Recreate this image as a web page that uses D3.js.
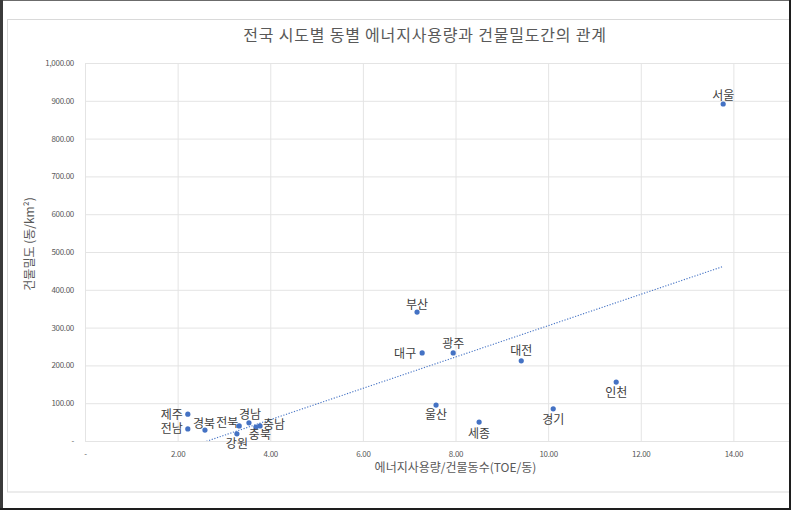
<!DOCTYPE html>
<html><head><meta charset="utf-8">
<script src="https://cdn.jsdelivr.net/npm/d3@7/dist/d3.min.js"></script>
<style>
html,body{margin:0;padding:0;background:#fff;}
svg{display:block;font-family:"Noto Sans CJK KR","Noto Sans",sans-serif;}
</style></head>
<body>
<svg id="chart" width="793" height="512"></svg>
<script>
// ---- data ----
const regions = ["서울","인천","경기","대전","세종","광주","울산","대구","부산","제주","전남","경북","전북","경남","충북","충남","강원"];
const energyPerBuilding = [13.78,11.47,10.11,9.42,8.51,7.95,7.58,7.28,7.17,2.22,2.22,2.59,3.33,3.54,3.69,3.78,3.28];
const buildingDensity   = [891.5,156,85,212,50,233,95,233,341,71,32,29,40,48,37,40,19];
const xTicks = [0,2,4,6,8,10,12,14,16];
const yTicks = [0,100,200,300,400,500,600,700,800,900,1000];
const title = "전국 시도별 동별 에너지사용량과 건물밀도간의 관계";
const xTitle = "에너지사용량/건물동수(TOE/동)";
const yTitle = "건물밀도 (동/km²)";

// label placement (style): offset of label centre from point
const labelOffset = {"서울":[0,-10],"인천":[0,9],"경기":[0,10],"대전":[0,-11],"세종":[0,10],"광주":[0,-10],
  "울산":[0,8],"대구":[-17,0],"부산":[0,-9],"제주":[-16,-1],"전남":[-16,-1],"경북":[-1,-8],"전북":[-12,-4],
  "경남":[1,-9],"충북":[4,6],"충남":[14,-2],"강원":[0,9]};

const pts = regions.map((r,i)=>({name:r,x:energyPerBuilding[i],y:buildingDensity[i]}));

const svg = d3.select("#chart");
const W=793,H=512;
const plot={left:85,right:826,top:63,bottom:441};
const x = d3.scaleLinear().domain([0,16]).range([plot.left,plot.right]);
const y = d3.scaleLinear().domain([0,1000]).range([plot.bottom,plot.top]);
const fmt = v => v===0 ? "-" : d3.format(",.2f")(v);

svg.append("rect").attr("width",W).attr("height",H).attr("fill","#fff");
// inner chart-area border
svg.append("rect").attr("x",7.5).attr("y",19.5).attr("width",800).attr("height",472.5)
  .attr("fill","none").attr("stroke","#d9d9d9").attr("stroke-width",1);

svg.append("defs").append("clipPath").attr("id","clip").append("rect")
  .attr("x",plot.left).attr("y",plot.top).attr("width",plot.right-plot.left).attr("height",plot.bottom-plot.top);

// gridlines
const g = svg.append("g");
g.append("g").attr("transform",`translate(0,${plot.bottom})`)
  .call(d3.axisBottom(x).tickValues(xTicks).tickSize(-(plot.bottom-plot.top)).tickFormat(""))
  .call(s=>s.select(".domain").remove())
  .call(s=>s.selectAll("line").attr("stroke","#e4e4e4").attr("stroke-width",1));
g.append("g").attr("transform",`translate(${plot.left},0)`)
  .call(d3.axisLeft(y).tickValues(yTicks).tickSize(-(plot.right-plot.left)).tickFormat(""))
  .call(s=>s.select(".domain").remove())
  .call(s=>s.selectAll("line").attr("stroke","#e4e4e4").attr("stroke-width",1));

// tick labels
const xa = svg.append("g").attr("transform",`translate(0,${plot.bottom})`)
  .call(d3.axisBottom(x).tickValues(xTicks.filter(v=>v<=14)).tickSize(0).tickPadding(10).tickFormat(fmt));
xa.select(".domain").remove();
xa.selectAll("text").attr("fill","#595959").attr("font-size","8px")
  .attr("font-family","'Noto Sans CJK KR',sans-serif").attr("letter-spacing","-0.3px");
const ya = svg.append("g").attr("transform",`translate(${plot.left},0)`)
  .call(d3.axisLeft(y).tickValues(yTicks).tickSize(0).tickPadding(11).tickFormat(fmt));
ya.select(".domain").remove();
ya.selectAll("text").attr("fill","#595959").attr("font-size","8px")
  .attr("font-family","'Noto Sans CJK KR',sans-serif").attr("letter-spacing","-0.3px");

// trendline (least squares)
const mx=d3.mean(pts,d=>d.x), my=d3.mean(pts,d=>d.y);
const slope=d3.sum(pts,d=>(d.x-mx)*(d.y-my))/d3.sum(pts,d=>(d.x-mx)*(d.x-mx));
const icpt=my-slope*mx;
const x0=d3.min(pts,d=>d.x), x1=d3.max(pts,d=>d.x);
svg.append("line").attr("clip-path","url(#clip)")
  .attr("x1",x(x0)).attr("y1",y(slope*x0+icpt)).attr("x2",x(x1)).attr("y2",y(slope*x1+icpt))
  .attr("stroke","#4472c4").attr("stroke-width",1.1).attr("stroke-dasharray","1.2,1.6");

// points
svg.append("g").selectAll("circle").data(pts).join("circle")
  .attr("cx",d=>x(d.x)).attr("cy",d=>y(d.y)).attr("r",2.6).attr("fill","#4472c4");

// labels
svg.append("g").selectAll("text").data(pts).join("text")
  .attr("x",d=>x(d.x)+labelOffset[d.name][0]).attr("y",d=>y(d.y)+labelOffset[d.name][1])
  .attr("text-anchor","middle").attr("dominant-baseline","central")
  .attr("font-size","12px").attr("fill","#404040").text(d=>d.name);

// titles
svg.append("text").attr("x",425).attr("y",41).attr("text-anchor","middle")
  .attr("font-size","16px").attr("fill","#595959").attr("letter-spacing","0.8px").text(title);
svg.append("text").attr("x",(plot.left+plot.right)/2).attr("y",472).attr("text-anchor","middle")
  .attr("font-size","12px").attr("fill","#595959").text(xTitle);
svg.append("text").attr("transform","translate(34,244) rotate(-90)").attr("text-anchor","middle")
  .attr("font-size","12px").attr("fill","#595959").text(yTitle);

// outer frame
svg.append("rect").attr("x",0).attr("y",0).attr("width",W).attr("height",1).attr("fill","#6b6b6b");
svg.append("rect").attr("x",0).attr("y",0).attr("width",3).attr("height",H).attr("fill","#3a3a3a");
svg.append("rect").attr("x",789).attr("y",0).attr("width",4).attr("height",H).attr("fill","#fff");
svg.append("rect").attr("x",789).attr("y",0).attr("width",2).attr("height",510).attr("fill","#1e1e1e");
svg.append("rect").attr("x",0).attr("y",508).attr("width",W).attr("height",4).attr("fill","#fff");
svg.append("rect").attr("x",0).attr("y",508).attr("width",791).attr("height",2).attr("fill","#1e1e1e");
</script>
</body></html>
